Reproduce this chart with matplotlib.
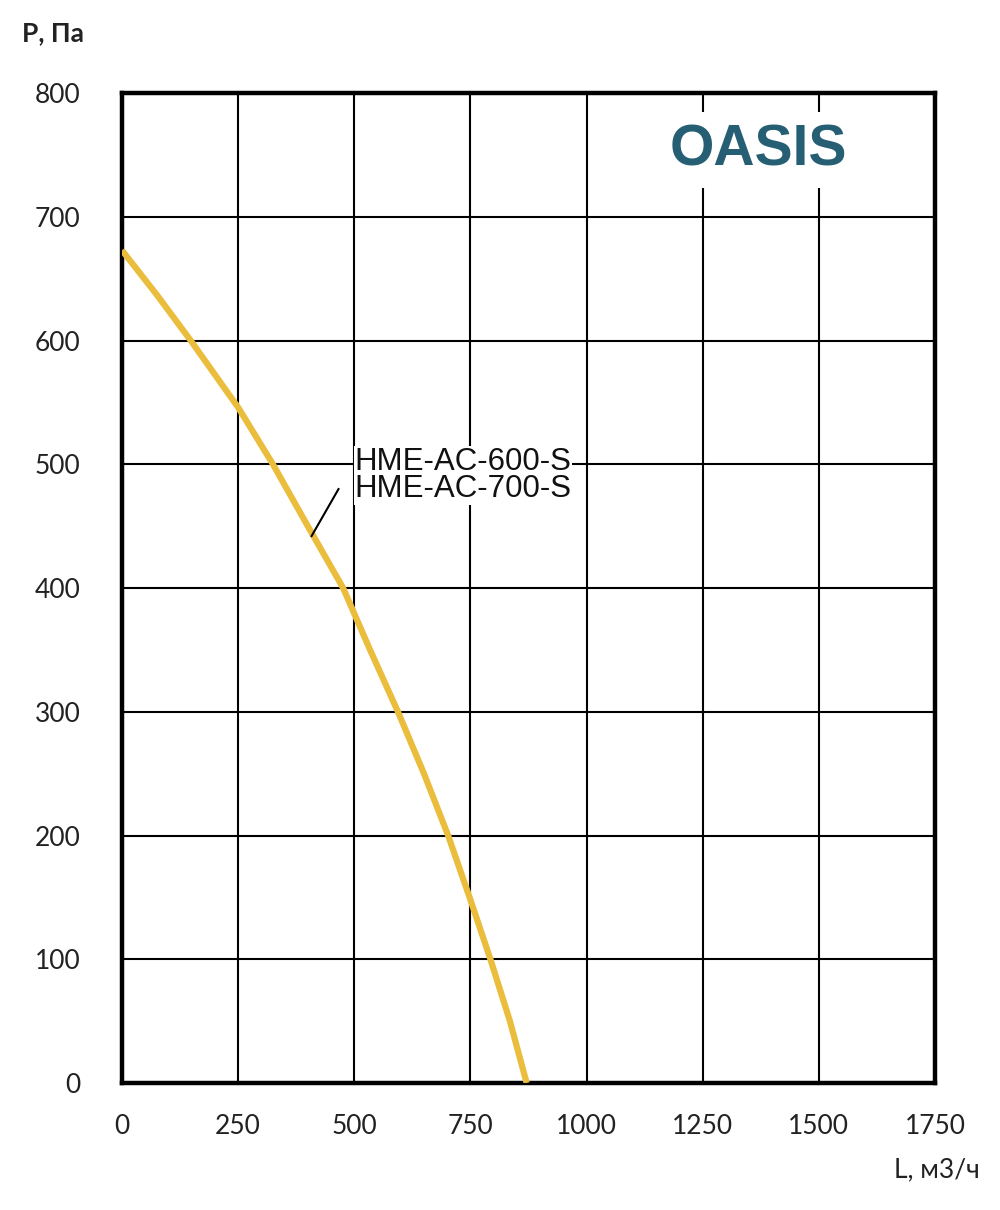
import matplotlib
matplotlib.use("Agg")
import matplotlib.pyplot as plt

# fan curve HME-AC-600-S / HME-AC-700-S
flow = [0, 75, 148, 250, 325, 400, 476, 534, 594, 650, 702, 750, 793, 835, 871]
pressure = [673, 637, 600, 546, 500, 450, 400, 350, 300, 250, 200, 148, 100, 50, 0]

x_ticks = [0, 250, 500, 750, 1000, 1250, 1500, 1750]
y_ticks = [0, 100, 200, 300, 400, 500, 600, 700, 800]
models = ["HME-AC-600-S", "HME-AC-700-S"]

fig = plt.figure(figsize=(10, 12.1), dpi=100)
ax = fig.add_axes([0.122, 0.105, 0.813, 0.818])

ax.plot(flow, pressure, color="#ebbd3d", lw=4.5, solid_capstyle="butt",
        solid_joinstyle="round", zorder=3)

ax.set_xlim(0, 1750)
ax.set_ylim(0, 800)
ax.set_xticks(x_ticks)
ax.set_yticks(y_ticks)
ax.grid(True, color="black", lw=1.5)
ax.set_axisbelow(True)
for s in ax.spines.values():
    s.set_linewidth(3.2)
ax.tick_params(length=0, labelsize=19, pad=22)
ax.tick_params(axis="y", pad=30)
for lab in ax.get_xticklabels() + ax.get_yticklabels():
    lab.set_family("Lato")
    lab.set_color("#222222")

# leader line + model labels
ax.plot([408, 466], [442, 480], color="black", lw=1.5, zorder=4)
ax.text(500, 502, models[0], fontsize=22.5, family="Liberation Sans", va="center", ha="left",
        color="#111111", zorder=5,
        bbox=dict(facecolor="white", edgecolor="none", pad=0.5))
ax.text(500, 480, models[1], fontsize=22.5, family="Liberation Sans", va="center", ha="left",
        color="#111111", zorder=5,
        bbox=dict(facecolor="white", edgecolor="none", pad=0.5))

ax.text(1370, 754, "OASIS", fontsize=41, fontweight="bold", family="Liberation Sans",
        color="#265f73", ha="center", va="center", zorder=5,
        bbox=dict(facecolor="white", edgecolor="none", pad=8))

fig.text(0.022, 0.973, "P, Па", fontsize=19, fontweight="bold", family="Lato",
         ha="left", va="center", color="#222222")
fig.text(0.98, 0.033, "L, м3/ч", fontsize=19, family="Lato",
         ha="right", va="center", color="#222222")

fig.savefig("out.png", dpi=100, facecolor="white")
